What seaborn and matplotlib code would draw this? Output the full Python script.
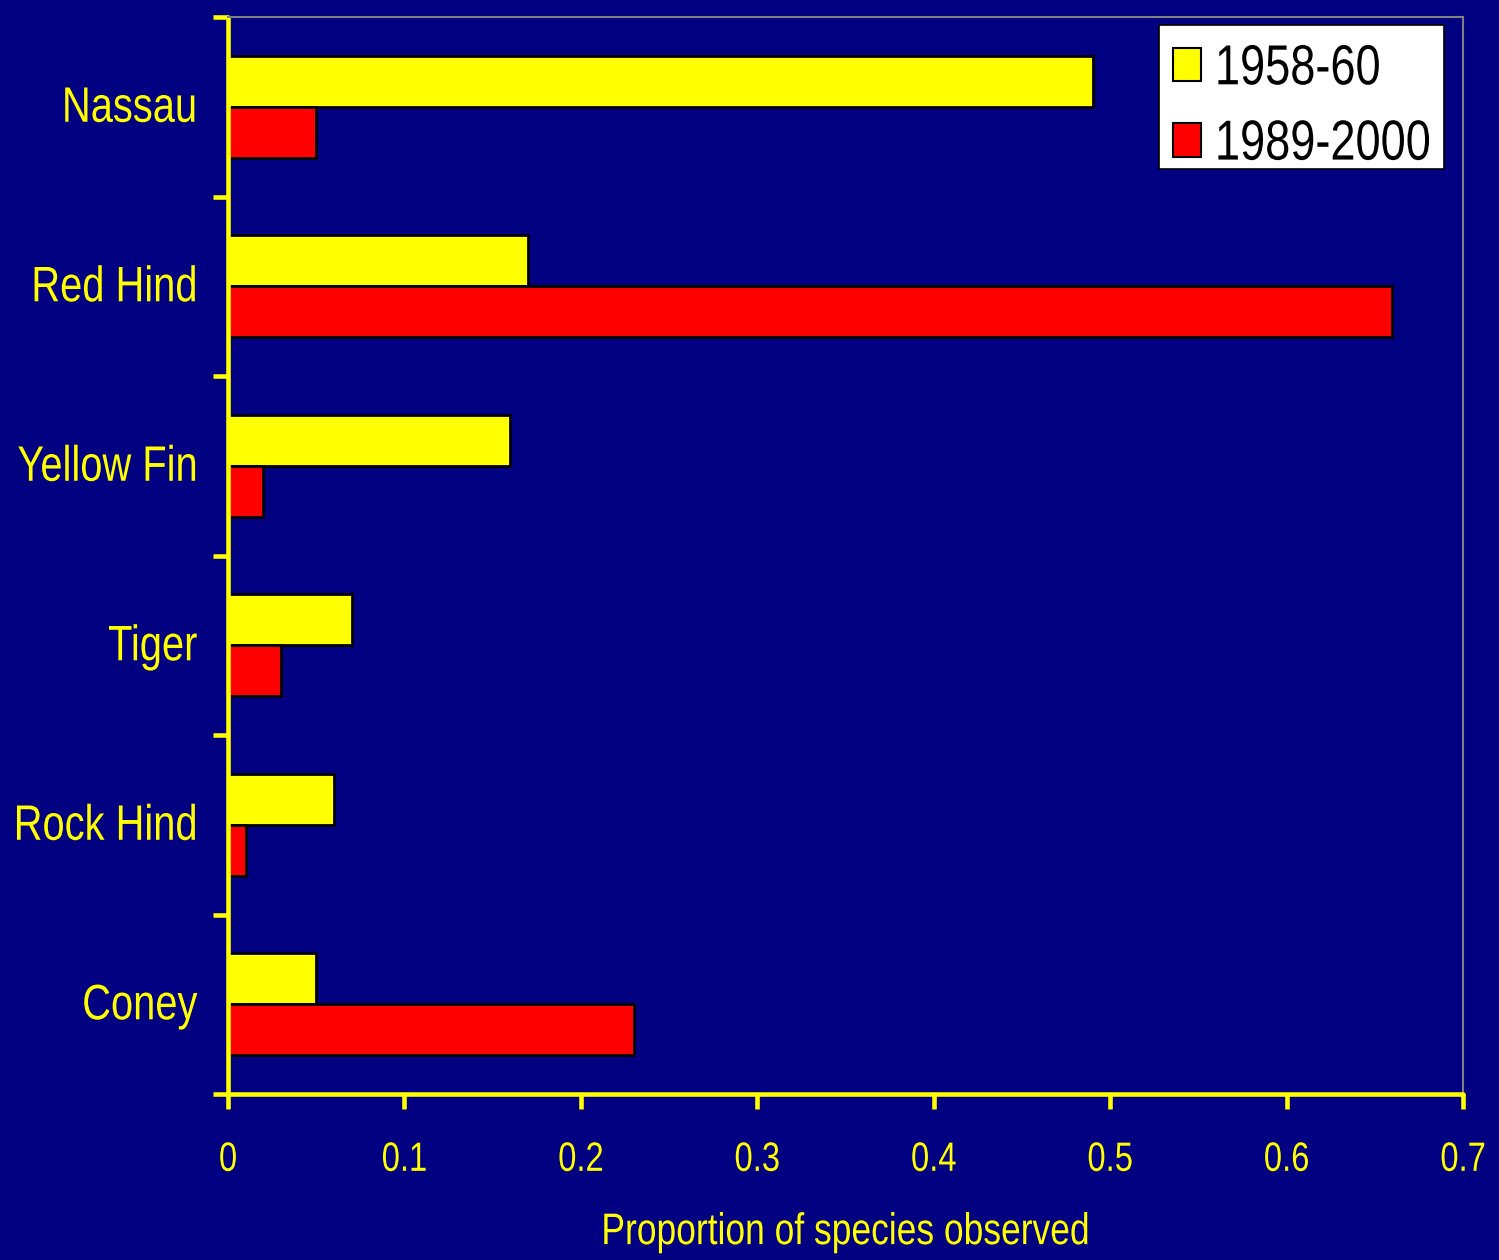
import matplotlib
matplotlib.use("Agg")
import matplotlib.pyplot as plt
import matplotlib.patheffects as patheffects
from matplotlib.transforms import Affine2D
import seaborn as sns
import pandas as pd
import numpy as np
from matplotlib.ticker import FixedLocator

species = ["Nassau", "Red Hind", "Yellow Fin", "Tiger", "Rock Hind", "Coney"]
period_labels = ["1958-60", "1989-2000"]
prop_1958_60 = [0.49, 0.17, 0.16, 0.07, 0.06, 0.05]
prop_1989_2000 = [0.05, 0.66, 0.02, 0.03, 0.01, 0.23]
x_ticks = [0, 0.1, 0.2, 0.3, 0.4, 0.5, 0.6, 0.7]
x_tick_labels = ["0", "0.1", "0.2", "0.3", "0.4", "0.5", "0.6", "0.7"]

df = pd.DataFrame({
    "species": species * 2,
    "period": [period_labels[0]] * len(species) + [period_labels[1]] * len(species),
    "proportion": prop_1958_60 + prop_1989_2000,
})

navy = "#000080"
yellow = "#FFFF00"
red = "#FF0000"


class TallText(patheffects.AbstractPathEffect):
    """Stretch glyphs vertically for a condensed look.

    The stretch pivots on the baseline, or on the middle of the glyph
    extents when ``centred`` is set; ``shift`` moves the result down (px).
    """

    def __init__(self, sy=1.25, centred=False, shift=0.0):
        super().__init__()
        self.sy = sy
        self.centred = centred
        self.shift = shift

    def draw_path(self, renderer, gc, tpath, affine, rgbFace=None):
        pivot = 0.0
        if self.centred:
            ext = tpath.get_extents()
            pivot = 0.5 * (ext.y0 + ext.y1)
        stretch = Affine2D().translate(0, -pivot).scale(1.0, self.sy).translate(0, pivot)
        renderer.draw_path(gc, tpath,
                           stretch + affine + Affine2D().translate(0, -self.shift),
                           rgbFace)


tall = [TallText(1.25)]

sns.set_style("white")
plt.rcParams["font.family"] = ["Liberation Sans", "DejaVu Sans"]

fig = plt.figure(figsize=(14.99, 12.6), dpi=100, facecolor=navy)
ax = fig.add_axes([0.1521, 0.1317, 0.8239, 0.8548])
ax.set_facecolor(navy)

sns.barplot(data=df, y="species", x="proportion", hue="period",
            order=species, hue_order=period_labels,
            palette=[yellow, red], orient="h", width=0.57,
            edgecolor="black", linewidth=2, saturation=1,
            errorbar=None, ax=ax)

ax.set_xlim(0, 0.7)
ax.set_ylim(len(species) - 0.5, -0.5)

# yellow axes on left/bottom, thin grey frame top/right
for side in ["left", "bottom"]:
    ax.spines[side].set_color(yellow)
    ax.spines[side].set_linewidth(3.3)
    ax.spines[side].set_capstyle("round")
for side in ["top", "right"]:
    ax.spines[side].set_color("#808080")
    ax.spines[side].set_linewidth(1.5)

ax.set_xticks(x_ticks)
ax.set_xticklabels(x_tick_labels)
ax.tick_params(axis="x", bottom=True, colors=yellow, labelcolor=yellow, length=11,
               width=3.3, direction="out", labelsize=23.6, pad=27)

# category labels centred on each group, tick marks at the group boundaries
ax.set_yticks(range(len(species)))
ax.set_yticklabels(species)
ax.tick_params(axis="y", which="major", left=True, length=0, labelcolor=yellow,
               labelsize=28.7, pad=22)
ax.yaxis.set_minor_locator(FixedLocator(np.arange(-0.5, len(species), 1.0)))
ax.tick_params(axis="y", which="minor", left=True, length=11, width=3.3,
               color=yellow, direction="out")

for lbl in ax.get_xticklabels() + ax.get_yticklabels():
    lbl.set_path_effects(tall)

ax.set_ylabel("")
ax.set_xlabel("Proportion of species observed", color=yellow, fontsize=25.5,
              labelpad=29, path_effects=tall)

legend_fs = 32.5
legend_drop = 9.5  # px
leg = ax.legend(loc="upper right", bbox_to_anchor=(0.9846, 0.9926), borderaxespad=0,
                frameon=True, fontsize=legend_fs, handlelength=0.62, handleheight=0.76,
                handletextpad=0.31, labelspacing=0.75, borderpad=0.3,
                fancybox=False, framealpha=1, title=None)
leg.get_frame().set_facecolor("white")
leg.get_frame().set_edgecolor("black")
leg.get_frame().set_linewidth(1.2)
for t in leg.get_texts():
    t.set_color("black")
    t.set_path_effects([TallText(1.25, centred=True, shift=legend_drop)])
for h in leg.legend_handles:
    h.set_edgecolor("black")
    h.set_linewidth(1.5)
    # handle boxes live in point units; drop them with the text
    h.set_y(h.get_y() - legend_drop * 72.0 / fig.dpi)

fig.savefig("out.png", dpi=100, facecolor=navy)
